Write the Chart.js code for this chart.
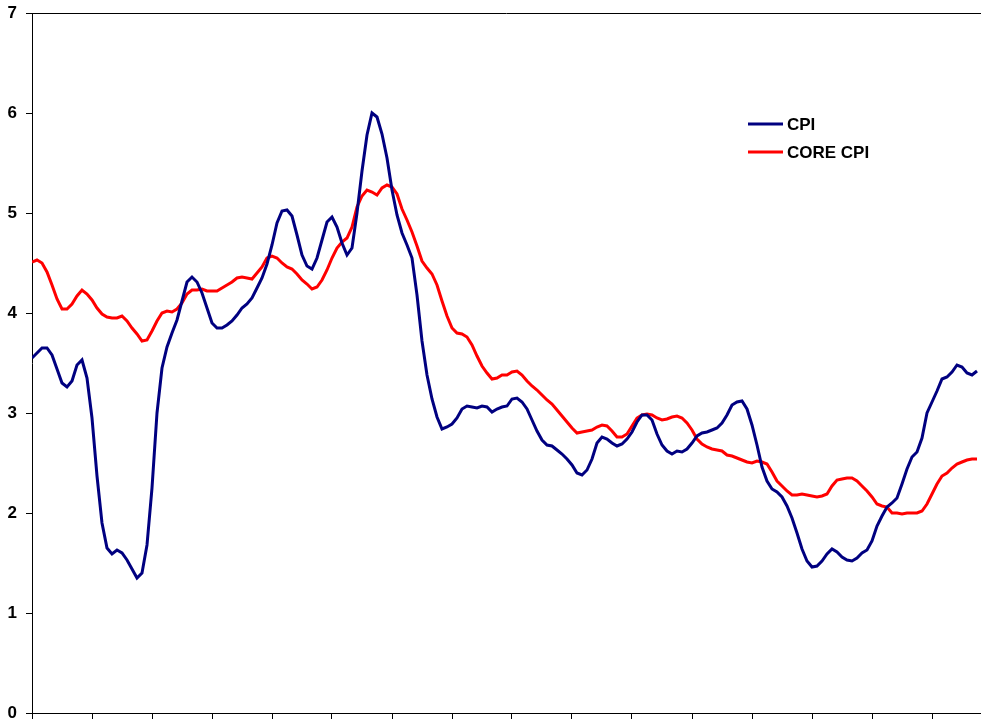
<!DOCTYPE html>
<html>
<head>
<meta charset="utf-8">
<script src="https://cdn.jsdelivr.net/npm/chart.js@4/dist/chart.umd.min.js"></script>
<style>
  html, body { margin: 0; padding: 0; background: #fff; }
  canvas { display: block; }
</style>
</head>
<body>
<canvas id="c" width="981" height="721"></canvas>
<script>
// Monthly categories (Jan 1985 .. Oct 2000)
const months = [];
for (let y = 1985; y <= 2000; y++) {
  for (let m = 1; m <= 12; m++) {
    if (y === 2000 && m > 10) break;
    months.push(y + '-' + String(m).padStart(2, '0'));
  }
}

const yTicks = [0, 1, 2, 3, 4, 5, 6, 7];

const cpi = [
  3.55, 3.60, 3.65, 3.65, 3.58, 3.44, 3.30, 3.26, 3.32, 3.48, 3.53, 3.35,
  2.95, 2.37, 1.90, 1.65, 1.59, 1.63, 1.60, 1.53, 1.44, 1.35, 1.40, 1.68,
  2.25, 3.00, 3.45, 3.66, 3.80, 3.93, 4.12, 4.31, 4.36, 4.31, 4.20, 4.05,
  3.90, 3.85, 3.85, 3.88, 3.92, 3.98, 4.05, 4.09, 4.15, 4.25, 4.35, 4.49,
  4.68, 4.90, 5.02, 5.03, 4.97, 4.78, 4.58, 4.47, 4.44, 4.55, 4.73, 4.91,
  4.96, 4.86, 4.70, 4.58, 4.65, 5.00, 5.42, 5.78, 6.00, 5.96, 5.79, 5.55,
  5.23, 4.98, 4.80, 4.68, 4.55, 4.18, 3.72, 3.38, 3.14, 2.96, 2.84, 2.86,
  2.89, 2.95, 3.04, 3.07, 3.06, 3.05, 3.07, 3.06, 3.01, 3.04, 3.06, 3.07,
  3.14, 3.15, 3.11, 3.04, 2.93, 2.82, 2.73, 2.68, 2.67, 2.63, 2.59, 2.54,
  2.48, 2.40, 2.38, 2.43, 2.54, 2.70, 2.76, 2.74, 2.70, 2.67, 2.69, 2.74,
  2.81, 2.91, 2.98, 2.98, 2.93, 2.79, 2.68, 2.62, 2.59, 2.62, 2.61, 2.64,
  2.70, 2.77, 2.80, 2.81, 2.83, 2.85, 2.90, 2.98, 3.08, 3.11, 3.12, 3.04,
  2.88, 2.68, 2.46, 2.32, 2.24, 2.21, 2.16, 2.07, 1.95, 1.80, 1.64, 1.52,
  1.46, 1.47, 1.52, 1.59, 1.64, 1.61, 1.56, 1.53, 1.52, 1.55, 1.60, 1.63,
  1.72, 1.87, 1.97, 2.06, 2.10, 2.15, 2.29, 2.44, 2.56, 2.61, 2.75, 3.00,
  3.11, 3.22, 3.34, 3.36, 3.41, 3.48, 3.46, 3.40, 3.38, 3.42
];

const coreCpi = [
  4.51, 4.53, 4.50, 4.41, 4.28, 4.14, 4.04, 4.04, 4.09, 4.17, 4.23, 4.19,
  4.13, 4.05, 3.99, 3.96, 3.95, 3.95, 3.97, 3.92, 3.85, 3.79, 3.72, 3.73,
  3.82, 3.92, 4.00, 4.02, 4.01, 4.04, 4.10, 4.19, 4.23, 4.23, 4.24, 4.22,
  4.22, 4.22, 4.25, 4.28, 4.31, 4.35, 4.36, 4.35, 4.34, 4.40, 4.46, 4.55,
  4.57, 4.55, 4.50, 4.46, 4.44, 4.39, 4.33, 4.29, 4.24, 4.26, 4.33, 4.43,
  4.55, 4.65, 4.71, 4.75, 4.86, 5.06, 5.17, 5.23, 5.21, 5.18, 5.25, 5.28,
  5.26, 5.19, 5.04, 4.93, 4.81, 4.67, 4.52, 4.45, 4.39, 4.28, 4.12, 3.97,
  3.85, 3.80, 3.79, 3.76, 3.68, 3.57, 3.47, 3.40, 3.34, 3.35, 3.38, 3.38,
  3.41, 3.42, 3.38, 3.32, 3.27, 3.23, 3.18, 3.13, 3.09, 3.03, 2.97, 2.91,
  2.85, 2.80, 2.81, 2.82, 2.83, 2.86, 2.88, 2.87, 2.82, 2.76, 2.76, 2.79,
  2.87, 2.95, 2.98, 2.99, 2.98, 2.95, 2.93, 2.94, 2.96, 2.97, 2.95, 2.90,
  2.83, 2.74, 2.69, 2.66, 2.64, 2.63, 2.62, 2.58, 2.57, 2.55, 2.53, 2.51,
  2.50, 2.52, 2.51, 2.49, 2.41, 2.32, 2.27, 2.22, 2.18, 2.18, 2.19, 2.18,
  2.17, 2.16, 2.17, 2.19, 2.27, 2.33, 2.34, 2.35, 2.35, 2.32, 2.27, 2.22,
  2.16, 2.09, 2.07, 2.06, 2.00, 2.00, 1.99, 2.00, 2.00, 2.00, 2.02, 2.09,
  2.19, 2.29, 2.37, 2.40, 2.45, 2.49, 2.51, 2.53, 2.54, 2.54
];

const seriesNames = ['CPI', 'CORE CPI'];
const seriesColors = ['#000080', '#FF0000'];

const toPoints = arr => arr.map((v, i) => ({ x: i, y: v }));

const topBorder = {
  id: 'topBorder',
  afterDraw(chart) {
    const { ctx, chartArea } = chart;
    ctx.save();
    ctx.strokeStyle = '#000';
    ctx.lineWidth = 1;
    ctx.beginPath();
    ctx.moveTo(chartArea.left, Math.round(chartArea.top) + 0.5);
    ctx.lineTo(chartArea.right, Math.round(chartArea.top) + 0.5);
    ctx.stroke();
    ctx.restore();
  }
};

const inlineLegend = {
  id: 'inlineLegend',
  afterDatasetsDraw(chart) {
    const { ctx } = chart;
    ctx.save();
    ctx.font = 'bold 17px "Liberation Sans", Arial, sans-serif';
    ctx.textBaseline = 'middle';
    ctx.textAlign = 'left';
    const x0 = 748, y0 = 124, gap = 28;
    chart.data.datasets.forEach((ds, i) => {
      const y = y0 + i * gap;
      ctx.strokeStyle = ds.borderColor;
      ctx.lineWidth = 3;
      ctx.beginPath();
      ctx.moveTo(x0, y);
      ctx.lineTo(x0 + 35, y);
      ctx.stroke();
      ctx.fillStyle = '#000';
      ctx.fillText(ds.label, x0 + 39, y + 1);
    });
    ctx.restore();
  }
};

new Chart(document.getElementById('c'), {
  type: 'line',
  data: {
    labels: months,
    datasets: [
      { label: seriesNames[0], data: toPoints(cpi), borderColor: seriesColors[0], backgroundColor: seriesColors[0], borderWidth: 3, pointRadius: 0, tension: 0, fill: false },
      { label: seriesNames[1], data: toPoints(coreCpi), borderColor: seriesColors[1], backgroundColor: seriesColors[1], borderWidth: 3, pointRadius: 0, tension: 0, fill: false }
    ]
  },
  options: {
    responsive: false,
    animation: false,
    events: [],
    layout: { padding: { top: 13, right: 0, bottom: 0, left: 0 } },
    plugins: { legend: { display: false }, tooltip: { enabled: false } },
    scales: {
      x: {
        type: 'linear',
        min: 0,
        max: 189.8,
        afterFit: s => { s.height = 8; s.paddingLeft = 0; s.paddingRight = 0; s.paddingTop = 0; s.paddingBottom = 0; },
        ticks: { stepSize: 12, includeBounds: false, display: false },
        grid: { display: true, drawOnChartArea: false, drawTicks: true, tickLength: 6, color: '#000', lineWidth: 1 },
        border: { display: true, color: '#000', width: 1 }
      },
      y: {
        min: yTicks[0],
        max: yTicks[yTicks.length - 1],
        afterFit: s => { s.width = 32; s.paddingTop = 0; s.paddingBottom = 0; s.paddingLeft = 0; s.paddingRight = 0; },
        afterBuildTicks: s => { s.ticks = yTicks.map(v => ({ value: v })); },
        ticks: { stepSize: 1, padding: 9, color: '#000', font: { family: '"Liberation Sans", Arial, sans-serif', size: 17, weight: 'bold' } },
        grid: { display: true, drawOnChartArea: false, drawTicks: true, tickLength: 6, color: '#000', lineWidth: 1 },
        border: { display: true, color: '#000', width: 1 }
      }
    }
  },
  plugins: [topBorder, inlineLegend]
});
</script>
</body>
</html>
